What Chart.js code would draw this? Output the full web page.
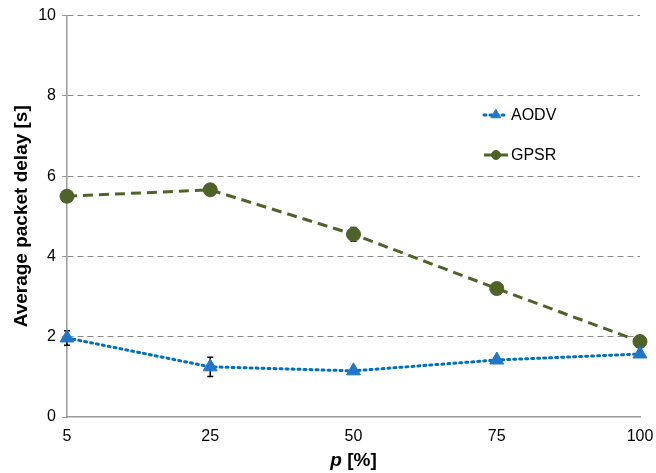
<!DOCTYPE html>
<html>
<head>
<meta charset="utf-8">
<script src="https://cdn.jsdelivr.net/npm/chart.js@4"></script>
<style>
  body { margin: 0; background: #fff; }
  #wrap { width: 656px; height: 473px; }
</style>
</head>
<body>
<div id="wrap"><canvas id="myChart" width="656" height="473"></canvas></div>
<script>
// data
var pLabels = ['5', '25', '50', '75', '100'];
var aodvDelay = [1.97, 1.25, 1.15, 1.42, 1.57];
var aodvErr = [0.18, 0.24, 0.05, 0.05, 0.05];
var gpsrDelay = [5.5, 5.66, 4.55, 3.2, 1.88];
var gpsrErr = [0.04, 0.04, 0.17, 0.05, 0.1];
var yTicks = [0, 2, 4, 6, 8, 10];

var FONT = 'Liberation Sans, Arial, sans-serif';

// error bars, drawn behind the markers
var errorBars = {
  id: 'errorBars',
  beforeDatasetsDraw: function(chart) {
    var ctx = chart.ctx;
    var x = chart.scales.x, y = chart.scales.y;
    ctx.save();
    ctx.strokeStyle = '#000';
    ctx.lineWidth = 1.5;
    chart.data.datasets.forEach(function(ds) {
      ds.data.forEach(function(v, i) {
        var px = x.getPixelForValue(i);
        var top = y.getPixelForValue(v + ds.err[i]);
        var bot = y.getPixelForValue(v - ds.err[i]);
        ctx.beginPath();
        ctx.moveTo(px, top); ctx.lineTo(px, bot);
        ctx.moveTo(px - 3, top); ctx.lineTo(px + 3, top);
        ctx.moveTo(px - 3, bot); ctx.lineTo(px + 3, bot);
        ctx.stroke();
      });
    });
    ctx.restore();
  }
};

// legend inside the plot + x title with italic p
var extras = {
  id: 'extras',
  afterDraw: function(chart) {
    var ctx = chart.ctx;
    ctx.save();
    var rows = [115, 155];
    chart.data.datasets.forEach(function(ds, k) {
      var yy = rows[k];
      ctx.strokeStyle = ds.borderColor;
      ctx.lineWidth = ds.borderWidth;
      ctx.lineCap = ds.borderCapStyle || 'butt';
      ctx.setLineDash(ds.borderDash);
      ctx.beginPath();
      ctx.moveTo(484, yy); ctx.lineTo(508, yy);
      ctx.stroke();
      ctx.setLineDash([]);
      ctx.fillStyle = ds.backgroundColor;
      ctx.strokeStyle = ds.backgroundColor;
      ctx.lineWidth = 1;
      Chart.helpers.drawPoint(ctx, {
        pointStyle: ds.pointStyle, radius: ds.pointRadius - 2.5, borderWidth: 1
      }, 496, yy);
      ctx.fillStyle = '#000';
      ctx.font = '16px ' + FONT;
      ctx.textBaseline = 'middle';
      ctx.textAlign = 'left';
      ctx.fillText(ds.label, 511, yy + 1);
    });
    // x axis title
    var cx = (chart.chartArea.left + chart.chartArea.right) / 2;
    ctx.fillStyle = '#000';
    ctx.textBaseline = 'middle';
    ctx.textAlign = 'left';
    ctx.font = 'italic bold 19px ' + FONT;
    var w1 = ctx.measureText('p').width;
    ctx.font = 'bold 19px ' + FONT;
    var w2 = ctx.measureText(' [%]').width;
    var sx = cx - (w1 + w2) / 2;
    ctx.font = 'italic bold 19px ' + FONT;
    ctx.fillText('p', sx, 461);
    ctx.font = 'bold 19px ' + FONT;
    ctx.fillText(' [%]', sx + w1, 461);
    ctx.restore();
  }
};

var data = {
  labels: pLabels,
  datasets: [{
    label: 'AODV',
    data: aodvDelay,
    err: aodvErr,
    borderColor: '#0070c0',
    backgroundColor: '#1f77c9',
    borderWidth: 3,
    borderDash: [2, 4],
    borderCapStyle: 'round',
    pointStyle: 'triangle',
    pointRadius: 8,
    pointBorderWidth: 1,
    pointBorderColor: '#1f77c9',
    tension: 0
  }, {
    label: 'GPSR',
    data: gpsrDelay,
    err: gpsrErr,
    borderColor: '#4f6228',
    backgroundColor: '#4f6228',
    borderWidth: 3,
    borderDash: [10, 6],
    pointStyle: 'circle',
    pointRadius: 7,
    pointBorderWidth: 1,
    pointBorderColor: '#4f6228',
    tension: 0
  }]
};

var config = {
  type: 'line',
  data: data,
  options: {
    responsive: false,
    animation: false,
    layout: { padding: { top: 14, right: 2, left: 10, bottom: 0 } },
    plugins: {
      legend: { display: false },
      tooltip: { enabled: false }
    },
    scales: {
      x: {
        offset: false,
        afterFit: function(s) {
          s.height = 56;
          // plot right edge at 640
          s.paddingRight = 16;
          s.paddingLeft = 0;
        },
        grid: { display: false, drawTicks: false },
        border: { color: '#9a9a9a', width: 1.5 },
        ticks: { color: '#000', font: { size: 16, family: FONT }, padding: 10, maxRotation: 0 }
      },
      y: {
        min: 0,
        max: 10,
        afterFit: function(s) { s.width = 57; },
        afterBuildTicks: function(s) { s.ticks = yTicks.map(function(v) { return { value: v }; }); },
        grid: {
          color: function(c) { return c.tick && c.tick.value === 0 ? 'rgba(0,0,0,0)' : '#8c8c8c'; },
          lineWidth: 1,
          tickColor: '#9a9a9a',
          tickLength: 5,
          tickBorderDash: [],
          drawTicks: true
        },
        // in v4 the grid line dash comes from border.dash
        border: { color: '#9a9a9a', width: 1.5, dash: [6, 4] },
        ticks: { color: '#000', font: { size: 16, family: FONT }, padding: 6 },
        title: {
          display: true,
          text: 'Average packet delay [s]',
          color: '#000',
          font: { size: 19, weight: 'bold', family: FONT },
          padding: { top: 0, bottom: 4 }
        }
      }
    }
  },
  plugins: [errorBars, extras]
};

var myChart = new Chart(document.getElementById('myChart'), config);
</script>
</body>
</html>
